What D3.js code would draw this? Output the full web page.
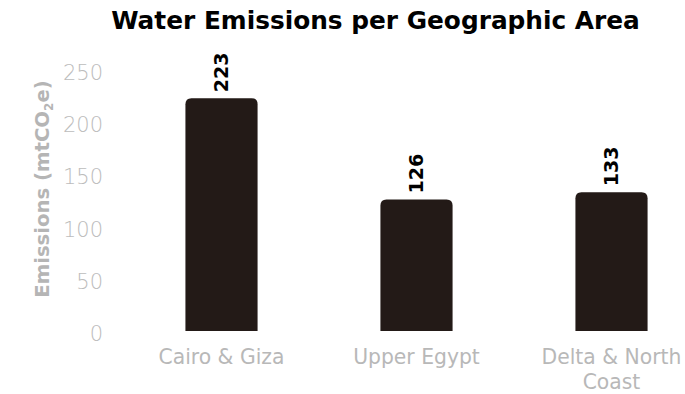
<!DOCTYPE html>
<html>
<head>
<meta charset="utf-8">
<script src="https://cdn.jsdelivr.net/npm/d3@7"></script>
<style>
  html, body { margin: 0; padding: 0; background: #ffffff; }
  svg { display: block; }
  text { font-family: "DejaVu Sans", "Open Sans", sans-serif; }
</style>
</head>
<body>
<svg id="chart" width="685" height="394"></svg>
<script>
// Water emissions (mtCO2e) by geographic area
const categories = ["Cairo & Giza", "Upper Egypt", "Delta & North Coast"];
const categoryLines = [["Cairo & Giza"], ["Upper Egypt"], ["Delta & North", "Coast"]];
const emissions = [223, 126, 133];
const yTicks = [0, 50, 100, 150, 200, 250];

const svg = d3.select("#chart");

const x = d3.scaleBand()
  .domain(categories)
  .range([124, 709])
  .paddingInner(0.63)
  .paddingOuter(0.315);

const y = d3.scaleLinear()
  .domain([0, 250])
  .range([331, 70]);

// Grow or shrink a text element's font size so it spans the given width
function fitWidth(node, target) {
  const size = parseFloat(node.getAttribute("font-size"));
  const len = node.getComputedTextLength();
  const s = len > 0 ? size * target / len : size;
  node.setAttribute("font-size", s.toFixed(2));
  return s;
}

// Title
const title = svg.append("text")
  .attr("x", 375.5)
  .attr("y", 29)
  .attr("text-anchor", "middle")
  .attr("font-size", 24)
  .attr("font-weight", 700)
  .attr("fill", "#000000")
  .text("Water Emissions per Geographic Area");
fitWidth(title.node(), 529);

// Y axis (labels only)
const yAxis = svg.append("g")
  .attr("transform", "translate(103,0)")
  .call(d3.axisLeft(y).tickValues(yTicks).tickSize(0).tickPadding(0));
yAxis.select(".domain").remove();
yAxis.selectAll("text")
  .attr("font-family", "\"Open Sans\", sans-serif")
  .attr("font-size", 21)
  .attr("font-weight", 300)
  .attr("fill", "#bcbcbc")
  .attr("dy", "0.45em");

// Y axis title with subscript
const yTitle = svg.append("text")
  .attr("transform", "translate(49,189) rotate(-90)")
  .attr("text-anchor", "middle")
  .attr("font-size", 19)
  .attr("font-weight", 700)
  .attr("fill", "#b5b5b5");
yTitle.append("tspan").text("Emissions (mtCO");
yTitle.append("tspan").attr("font-size", 12).attr("dy", 4).text("2");
yTitle.append("tspan").attr("dy", -4).text("e)");
fitWidth(yTitle.node(), 218);

// Bars with rounded top corners
const r = 6;
function barPath(x0, w, yTop, yBase) {
  return `M${x0},${yBase}V${yTop + r}Q${x0},${yTop} ${x0 + r},${yTop}` +
         `H${x0 + w - r}Q${x0 + w},${yTop} ${x0 + w},${yTop + r}V${yBase}Z`;
}
svg.append("g").selectAll("path")
  .data(emissions)
  .join("path")
  .attr("d", (d, i) => barPath(x(categories[i]), x.bandwidth(), y(d), y(0)))
  .attr("fill", "#231a17");

// Value labels, rotated above each bar
svg.append("g").selectAll("text")
  .data(emissions)
  .join("text")
  .attr("transform", (d, i) =>
    `translate(${x(categories[i]) + x.bandwidth() / 2},${y(d) - 6}) rotate(-90)`)
  .attr("text-anchor", "start")
  .attr("dy", "0.36em")
  .attr("font-size", 19)
  .attr("font-weight", 700)
  .attr("fill", "#000000")
  .text(d => d);

// Category labels under the bars
const catG = svg.append("g");
const catTexts = categories.map((c, i) => {
  const cx = x(c) + x.bandwidth() / 2;
  const t = catG.append("text")
    .attr("x", cx)
    .attr("y", 364)
    .attr("text-anchor", "middle")
    .attr("font-family", "\"Open Sans\", sans-serif")
    .attr("font-size", 19)
    .attr("font-weight", 400)
    .attr("fill", "#b8b8b8");
  categoryLines[i].forEach((line, j) => {
    t.append("tspan")
      .attr("x", cx)
      .attr("dy", j === 0 ? 0 : 24.5)
      .text(line);
  });
  return t;
});
const catSize = fitWidth(catTexts[0].node(), 126);
catTexts.forEach(t => t.attr("font-size", catSize.toFixed(2)));
</script>
</body>
</html>
